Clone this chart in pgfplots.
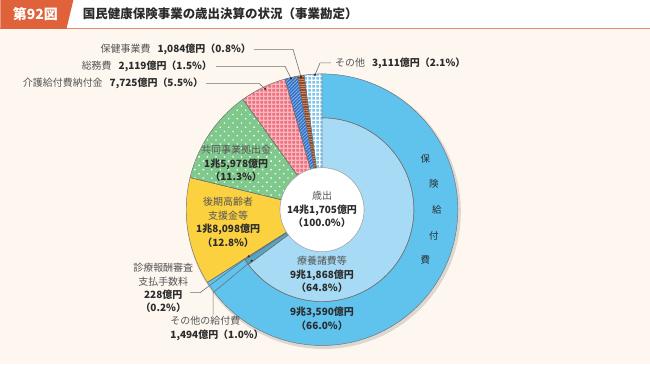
\documentclass[border=0pt]{standalone}
\usepackage{fontspec}
\setmainfont{Noto Sans CJK JP}
\usepackage{pgfplots}
\pgfplotsset{compat=1.18}
\usetikzlibrary{calc,patterns.meta}

\definecolor{bg}{HTML}{FDF7F0}
\definecolor{hdr}{HTML}{E0623A}
\definecolor{bOut}{HTML}{5FC3EE}
\definecolor{bIn}{HTML}{A7DBF5}
\definecolor{yel}{HTML}{FCD140}
\definecolor{grn}{HTML}{80C98C}
\definecolor{red1}{HTML}{EF6E7B}
\definecolor{red2}{HTML}{F9B8BF}
\definecolor{nav}{HTML}{2F6EC5}
\definecolor{nav2}{HTML}{8DB6EA}
\definecolor{brn}{HTML}{8E4B30}
\definecolor{brn2}{HTML}{C98A6A}
\definecolor{lbl}{HTML}{78C5EE}
\definecolor{txt}{HTML}{2B2B2B}
\definecolor{txtg}{HTML}{555555}
\definecolor{ln}{HTML}{707070}

\tikzdeclarepattern{
  name=wdots, type=uncolored,
  bounding box={(-3pt,-3pt) and (3pt,3pt)},
  tile size={(6pt,6pt)},
  tile transformation={rotate=45},
  code={\fill (0pt,0pt) circle[radius=0.95pt];}
}
\tikzdeclarepattern{
  name=gingham, type=uncolored,
  bounding box={(0pt,0pt) and (4pt,4pt)},
  tile size={(4pt,4pt)},
  code={\fill (0pt,0pt) rectangle (4pt,1.4pt); \fill (0pt,0pt) rectangle (1.4pt,4pt);}
}

\def\cx{322}
\def\cy{210}
% wedge: start %, end %, inner radius, outer radius, style
\newcommand\seg[5]{%
  \path[#5] ($(axis cs:\cx,\cy)+({90-3.6*#1}:#4pt)$)
    arc[start angle={90-3.6*#1}, end angle={90-3.6*#2}, radius=#4pt]
    -- ($(axis cs:\cx,\cy)+({90-3.6*#2}:#3pt)$)
    arc[start angle={90-3.6*#2}, end angle={90-3.6*#1}, radius=#3pt] -- cycle;}

\newcommand\lab{\fontsize{10}{13.5}\selectfont}

\begin{document}
\begin{tikzpicture}
\begin{axis}[
  x=1pt, y=1pt, y dir=reverse,
  xmin=0, xmax=650, ymin=0, ymax=365,
  hide axis, scale only axis, clip=false,
]
% backgrounds
\fill[bg] (axis cs:0,0) rectangle (axis cs:650,365);
\fill[white] (axis cs:0,0) rectangle (axis cs:650,28);
\draw[hdr!75, line width=1pt] (axis cs:0,28.5) -- (axis cs:650,28.5);
\fill[hdr] (axis cs:0,0) -- (axis cs:73,0) -- (axis cs:66,29) -- (axis cs:0,29) -- cycle;
\node[text=white, font=\fontsize{14}{16}\selectfont\bfseries] at (axis cs:35,14) {第92図};
\node[anchor=west, text=txt, font=\fontsize{12.5}{14}\selectfont\bfseries] at (axis cs:79,14) {国民健康保険事業の歳出決算の状況（事業勘定）};

% shadow
\fill[black, opacity=0.13] ($(axis cs:\cx,\cy)+(1.5pt,-2pt)$) circle[radius=137.5pt];

% values in percent (cumulative from 12 o'clock, clockwise)
\seg{0}{66.0}{92}{136}{fill=bOut}                 % 保険給付費 66.0
\seg{0}{64.8}{42}{92}{fill=bIn}                   % 療養諸費等 64.8
\seg{64.8}{65.8}{42}{92}{fill=bOut!85!black}      % その他の給付費 1.0
\seg{65.8}{66.0}{42}{92}{fill=bIn}                % 診療報酬審査支払手数料 0.2
\seg{66.0}{78.8}{42}{136}{fill=yel}               % 後期高齢者支援金等 12.8
\seg{78.8}{90.1}{42}{136}{fill=grn, postaction={pattern=wdots, pattern color=white}}   % 共同事業拠出金 11.3
\seg{90.1}{95.6}{42}{136}{fill=red1, postaction={pattern=gingham, pattern color=red2}} % 介護給付費納付金 5.5
\seg{95.6}{97.1}{42}{136}{fill=nav, postaction={pattern={Lines[angle=45,distance=2.4pt,line width=0.8pt]}, pattern color=nav2}} % 総務費 1.5
\seg{97.1}{97.9}{42}{136}{fill=brn, postaction={pattern={Lines[angle=0,distance=2.4pt,line width=0.8pt]}, pattern color=brn2}} % 保健事業費 0.8
\seg{97.9}{100}{42}{136}{fill=lbl, postaction={pattern=gingham, pattern color=white}}  % その他 2.1

% outlines
\seg{0}{66.0}{92}{136}{draw=ln, line width=0.45pt}
\seg{0}{64.8}{42}{92}{draw=ln, line width=0.45pt}
\seg{64.8}{65.8}{42}{92}{draw=ln, line width=0.45pt}
\seg{65.8}{66.0}{42}{92}{draw=ln, line width=0.45pt}
\seg{66.0}{78.8}{42}{136}{draw=ln, line width=0.45pt}
\seg{78.8}{90.1}{42}{136}{draw=ln, line width=0.45pt}
\seg{90.1}{95.6}{42}{136}{draw=ln, line width=0.45pt}
\seg{95.6}{97.1}{42}{136}{draw=ln, line width=0.45pt}
\seg{97.1}{97.9}{42}{136}{draw=ln, line width=0.45pt}
\seg{97.9}{100}{42}{136}{draw=ln, line width=0.45pt}

% centre hole
\fill[white] (axis cs:\cx,\cy) circle[radius=42pt];
\draw[ln!60, line width=0.4pt] (axis cs:\cx,\cy) circle[radius=42pt];

% centre label
\node[align=center, font=\lab, inner sep=0] at (axis cs:322,210)
  {{\color{txtg}歳出}\\{\color{txt}\bfseries 14兆1,705億円}\\{\color{txt}\bfseries（100.0\%）}};

% inner labels
\node[align=center, font=\lab, text=txt, inner sep=0] at (axis cs:322,275)
  {{\color{txtg}療養諸費等}\\{\bfseries 9兆1,868億円}\\{\bfseries（64.8\%）}};
\node[align=center, font=\lab, text=txt, inner sep=0] at (axis cs:322,319)
  {{\bfseries 9兆3,590億円}\\{\bfseries（66.0\%）}};
\node[align=center, font=\lab, text=txt, inner sep=0] at (axis cs:236,164)
  {{\color{txtg}共同事業拠出金}\\{\bfseries 1兆5,978億円}\\{\bfseries（11.3\%）}};
\node[align=center, font=\lab, text=txt, inner sep=0] at (axis cs:228,222.5)
  {{\color{txtg}後期高齢者}\\{\color{txtg}支援金等}\\{\bfseries 1兆8,098億円}\\{\bfseries（12.8\%）}};

% vertical label 保険給付費
\node[font=\fontsize{9.5}{11}\selectfont, text=txt, inner sep=0] at (axis cs:425.4,159.6) {保};
\node[font=\fontsize{9.5}{11}\selectfont, text=txt, inner sep=0] at (axis cs:434,184) {険};
\node[font=\fontsize{9.5}{11}\selectfont, text=txt, inner sep=0] at (axis cs:437,210) {給};
\node[font=\fontsize{9.5}{11}\selectfont, text=txt, inner sep=0] at (axis cs:434,236) {付};
\node[font=\fontsize{9.5}{11}\selectfont, text=txt, inner sep=0] at (axis cs:425.4,260.4) {費};

% top leader lines
\draw[ln, line width=0.6pt] (axis cs:254,49.5) -- (axis cs:293,49.5) -- (axis cs:301,77);
\fill[txt] (axis cs:301,77) circle[radius=1.2pt];
\draw[ln, line width=0.6pt] (axis cs:216,66.5) -- (axis cs:285,66.5) -- (axis cs:291,78.5);
\fill[txt] (axis cs:291,78.5) circle[radius=1.2pt];
\draw[ln, line width=0.6pt] (axis cs:206,83.5) -- (axis cs:259,83.5) -- (axis cs:265,89);
\fill[txt] (axis cs:265,89) circle[radius=1.2pt];
\draw[ln, line width=0.6pt] (axis cs:331,63) -- (axis cs:320,63) -- (axis cs:315,75);
\fill[txt] (axis cs:315,75) circle[radius=1.2pt];

\node[anchor=east, font=\lab, inner sep=0] at (axis cs:251,49.5)
  {\color{txtg}保健事業費\hspace{0.7em}\color{txt}\bfseries 1,084億円（0.8\%）};
\node[anchor=east, font=\lab, inner sep=0] at (axis cs:212,66.5)
  {\color{txtg}総務費\hspace{0.7em}\color{txt}\bfseries 2,119億円（1.5\%）};
\node[anchor=east, font=\lab, inner sep=0] at (axis cs:203,83.5)
  {\color{txtg}介護給付費納付金\hspace{0.7em}\color{txt}\bfseries 7,725億円（5.5\%）};
\node[anchor=west, font=\lab, inner sep=0] at (axis cs:335,63)
  {\color{txtg}その他\hspace{0.7em}\color{txt}\bfseries 3,111億円（2.1\%）};

% lower-left leader lines
\draw[ln, line width=0.6pt] (axis cs:190,293) -- (axis cs:200,293) -- (axis cs:248.6,256.7);
\fill[txt] (axis cs:248.6,256.7) circle[radius=1.2pt];
\draw[ln, line width=0.6pt] (axis cs:213,315) -- (axis cs:213,293) -- (axis cs:251.6,261.1);
\fill[txt] (axis cs:251.6,261.1) circle[radius=1.2pt];

\node[align=center, font=\lab, inner sep=0] at (axis cs:163,288.5)
  {{\color{txtg}診療報酬審査}\\{\color{txtg}支払手数料}\\{\color{txt}\bfseries 228億円}\\{\color{txt}\bfseries（0.2\%）}};
\node[align=left, anchor=north west, font=\lab, inner sep=0] at (axis cs:170,316.5)
  {{\color{txtg}その他の給付費}\\{\color{txt}\bfseries 1,494億円（1.0\%）}};
\end{axis}
\end{tikzpicture}
\end{document}
